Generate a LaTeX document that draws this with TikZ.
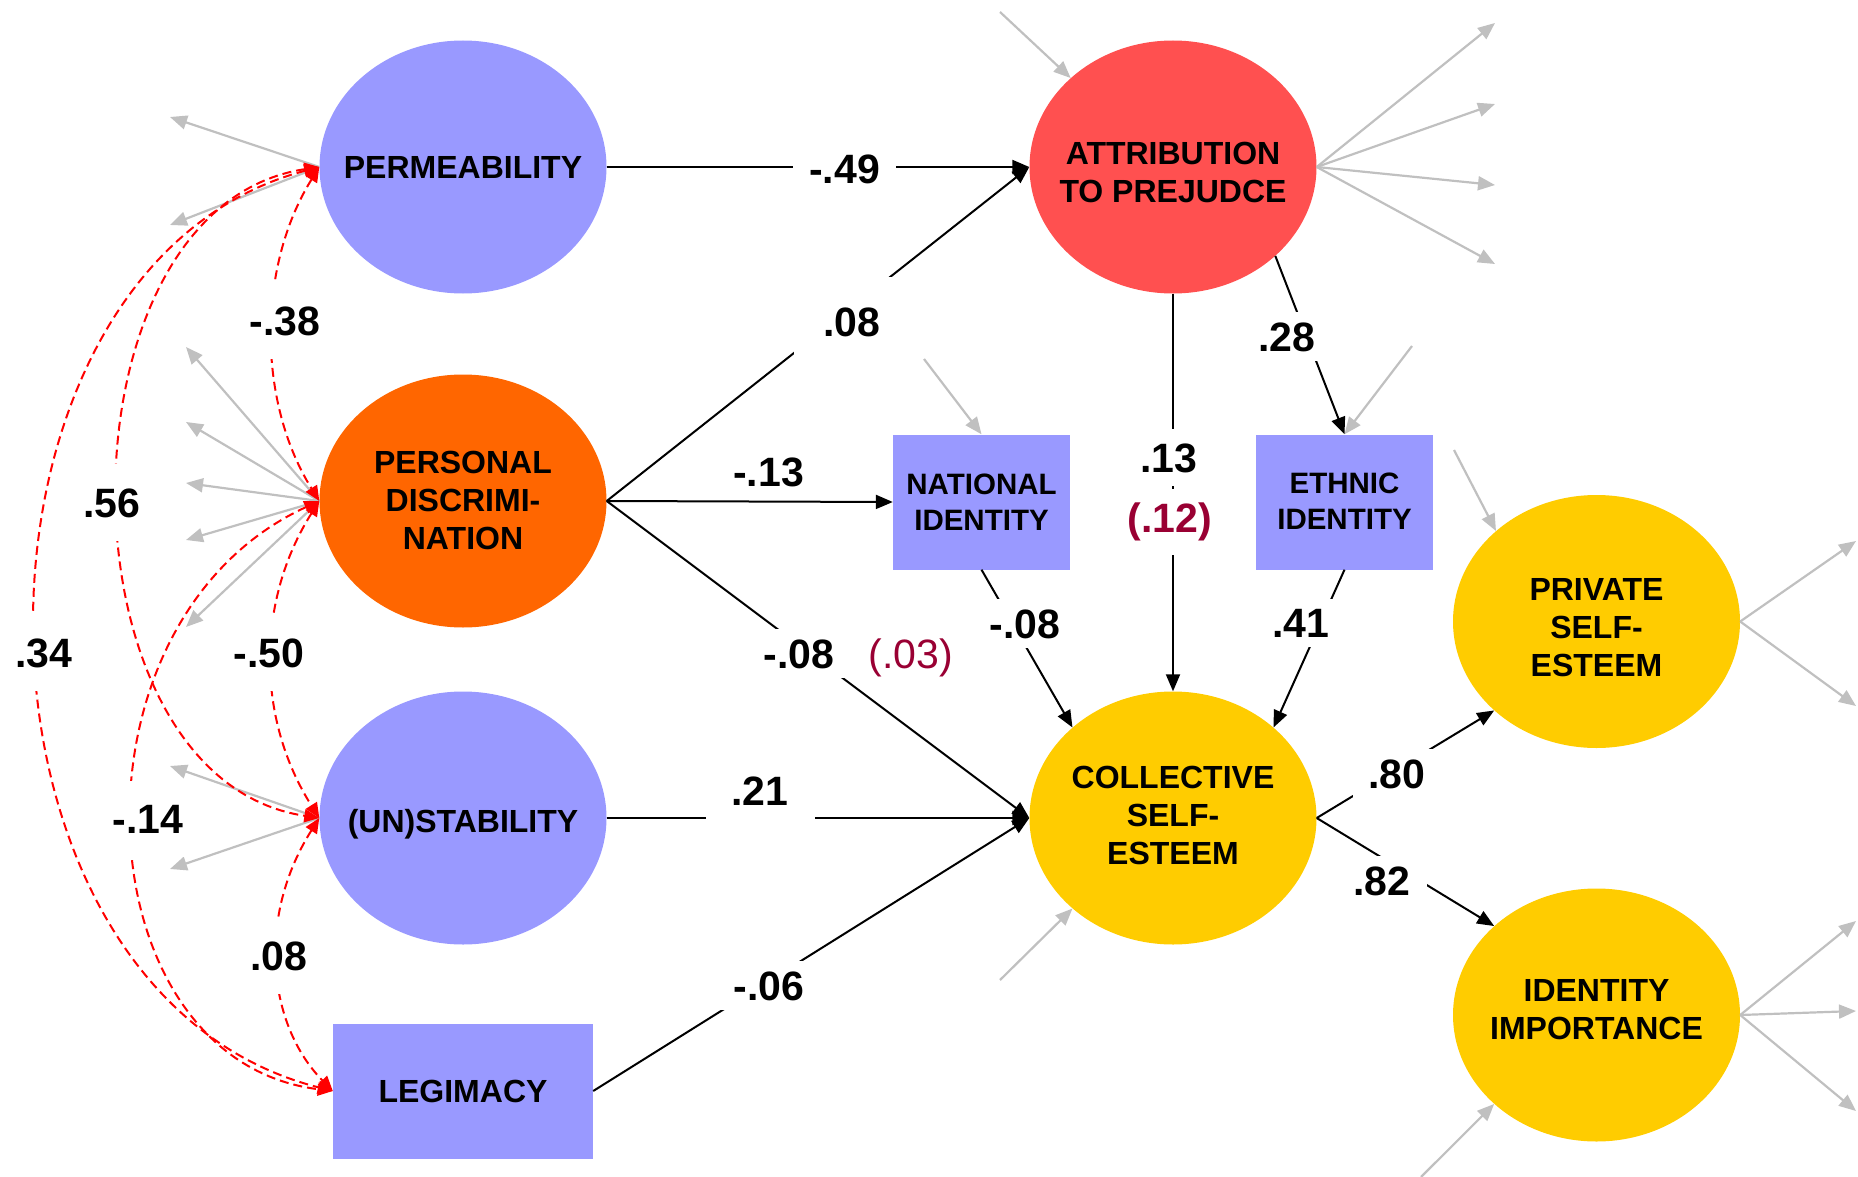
\documentclass[tikz,border=0pt]{standalone}
\usepackage{fontspec}
\setmainfont{Liberation Sans}
\usetikzlibrary{arrows.meta,shapes.geometric}

\definecolor{lilac}{HTML}{9999FF}
\definecolor{orng}{HTML}{FF6600}
\definecolor{salmon}{HTML}{FF5050}
\definecolor{gold}{HTML}{FFCC00}
\definecolor{wine}{HTML}{990033}
\definecolor{errgray}{HTML}{C0C0C0}
\definecolor{covred}{HTML}{FF0000}

% centred multi-line text that does not widen its node;
% the optional argument lowers the text inside the node
\newcommand\lbltxt[2][0pt]{\makebox[0pt]{\raisebox{-#1}[\height][\depth]{%
  \begin{tabular}{@{}c@{}}#2\end{tabular}}}}

\begin{document}
\begin{tikzpicture}[x=1pt,y=-1pt,
  latent/.style={ellipse, inner sep=0pt, minimum width=287pt, minimum height=253pt,
    font=\fontsize{32}{38}\selectfont\bfseries},
  observed/.style={rectangle, inner sep=0pt, minimum height=135pt, fill=lilac,
    font=\fontsize{29.5}{36.5}\selectfont\bfseries},
  effect/.style={draw=black, line width=2pt, -{Triangle[length=17pt,width=14pt]}},
  resid/.style={draw=errgray, line width=2.2pt, -{Triangle[length=17pt,width=14pt]}},
  cov/.style={draw=covred, line width=2pt, dash pattern=on 9pt off 5pt,
    {Triangle[length=15pt,width=13pt]}-{Triangle[length=15pt,width=13pt]}},
  coef/.style={font=\fontsize{41}{48}\selectfont\bfseries, fill=white,
    inner xsep=16pt, inner ysep=10pt, anchor=base},
  corr/.style={coef, inner xsep=8pt, inner ysep=24pt},
  alt/.style={text=wine},
]
\useasboundingbox (0,0) rectangle (1858,1177);

% ---- constructs ----
\node[latent, fill=lilac]  (perm)   at (463,167)    {\lbltxt[3.5pt]{PERMEABILITY}};
\node[latent, fill=orng]   (pers)   at (463,501)    {\lbltxt[3pt]{PERSONAL\\DISCRIMI-\\NATION}};
\node[latent, fill=lilac]  (unstab) at (463,818)    {\lbltxt[7pt]{(UN)STABILITY}};
\node[observed, minimum width=260pt, font=\fontsize{32}{38}\selectfont\bfseries]
                           (legit)  at (463,1091)   {LEGIMACY};
\node[latent, fill=salmon] (attrib) at (1173,167)   {\lbltxt[9pt]{ATTRIBUTION\\TO PREJUDCE}};
\node[observed, minimum width=177pt] (natid) at (981.5,502)  {\lbltxt[3pt]{NATIONAL\\IDENTITY}};
\node[observed, minimum width=177pt] (ethid) at (1344.5,502) {\lbltxt[2pt]{ETHNIC\\IDENTITY}};
\node[latent, fill=gold]   (cse)    at (1173,818)   {\lbltxt[1pt]{COLLECTIVE\\SELF-\\ESTEEM}};
\node[latent, fill=gold]   (pse)    at (1596.5,621.5) {\lbltxt[9pt]{PRIVATE\\SELF-\\ESTEEM}};
\node[latent, fill=gold]   (imp)    at (1596.5,1015)  {\lbltxt[-2pt]{IDENTITY\\IMPORTANCE}};

% ---- free ends of the residual / indicator arrows ----
\coordinate (pm1) at (170,117);  \coordinate (pm2) at (170,225);
\coordinate (pd1) at (186,347);  \coordinate (pd2) at (186,422);
\coordinate (pd3) at (186,483);  \coordinate (pd4) at (186,540);
\coordinate (pd5) at (186,627);
\coordinate (us1) at (170,766);  \coordinate (us2) at (170,869);
\coordinate (at0) at (1000,12);
\coordinate (at1) at (1495,23);  \coordinate (at2) at (1495,104);
\coordinate (at3) at (1495,185); \coordinate (at4) at (1495,264);
\coordinate (ni0) at (924,359);
\coordinate (ei0) at (1412,346);
\coordinate (ps0) at (1454,450);
\coordinate (ps1) at (1856,541); \coordinate (ps2) at (1856,706);
\coordinate (cs0) at (1000,980);
\coordinate (im0) at (1421,1177);
\coordinate (im1) at (1856,921); \coordinate (im2) at (1856,1011);
\coordinate (im3) at (1856,1111);

% ---- grey residual / indicator arrows ----
\foreach \t in {pm1,pm2} \draw[resid] (perm.west) -- (\t);
\foreach \t in {pd1,pd2,pd3,pd4,pd5} \draw[resid] (pers.west) -- (\t);
\foreach \t in {us1,us2} \draw[resid] (unstab.west) -- (\t);
\draw[resid] (at0) -- (attrib.139);
\foreach \t in {at1,at2,at3,at4} \draw[resid] (attrib.east) -- (\t);
\draw[resid] (ni0) -- (natid.north);
\draw[resid] (ei0) -- (ethid.north);
\draw[resid] (ps0) -- (pse.138);
\foreach \t in {ps1,ps2} \draw[resid] (pse.east) -- (\t);
\draw[resid] (cs0) -- (cse.222);
\draw[resid] (im0) -- (imp.221);
\foreach \t in {im1,im2,im3} \draw[resid] (imp.east) -- (\t);

% ---- red dashed correlations ----
\draw[cov] (perm.west)   .. controls (257,267) and (257,401)  .. (pers.west);
\draw[cov] (pers.west)   .. controls (256,601) and (256,718)  .. (unstab.west);
\draw[cov] (unstab.west) .. controls (256,918) and (268,1025) .. (legit.west);
\draw[cov] (perm.west)   .. controls (52,207)  and (52,778)   .. (unstab.west);
\draw[cov] (pers.west)   .. controls (58,621)  and (80,1060)  .. (legit.west);
\draw[cov] (perm.west)   .. controls (-60,267) and (-60,991)  .. (legit.west);

% ---- structural paths ----
\draw[effect] (perm) -- (attrib);
\draw[effect] (pers.east) -- (attrib.west);
\draw[effect] (pers.east) -- (natid.west);
\draw[effect] (pers.east) -- (cse.west);
\draw[effect] (unstab) -- (cse);
\draw[effect] (legit.east) -- (cse.west);
\draw[effect] (attrib) -- (cse);
\draw[effect] (attrib.-41) -- (ethid.north);
\draw[effect] (natid.south) -- (cse.138);
\draw[effect] (ethid.south) -- (cse.42);
\draw[effect] (cse.east) -- (pse.221);
\draw[effect] (cse.east) -- (imp.139);

% ---- path coefficients ----
\node[coef] (k1)  at (844.5,184) {-.49};
\node[coef, inner xsep=30pt, inner ysep=30pt] (k2)  at (852,336)   {.08};
\node[coef] (k3)  at (1287,351)  {.28};
\node[coef, inner ysep=14pt] (k4) at (1169,472) {.13};
\node[coef, alt, inner ysep=14pt] (k4b) at (1170,532.5) {(.12)};
\node[coef, fill=none] (k5) at (768.5,486) {-.13};
\node[coef] (k6)  at (1025,638)  {-.08};
\node[coef] (k7)  at (799,668)   {-.08};
\node[coef, alt, fill=none, font=\fontsize{41}{48}\selectfont] (k7b) at (911,668) {(.03)};
\node[coef, inner xsep=26pt, inner ysep=16pt] (k8) at (760,805) {.21};
\node[coef] (k9)  at (769,1000)  {-.06};
\node[coef] (k10) at (1397,788)  {.80};
\node[coef] (k11) at (1382,895)  {.82};
\node[coef] (k12) at (1301,637)  {.41};

% ---- correlations ----
\node[corr] (r1) at (285,335)  {-.38};
\node[corr] (r2) at (112,517)  {.56};
\node[corr] (r3) at (269,667)  {-.50};
\node[corr] (r4) at (43.5,667) {.34};
\node[corr] (r5) at (148,833)  {-.14};
\node[corr] (r6) at (279,970)  {.08};
\end{tikzpicture}
\end{document}
